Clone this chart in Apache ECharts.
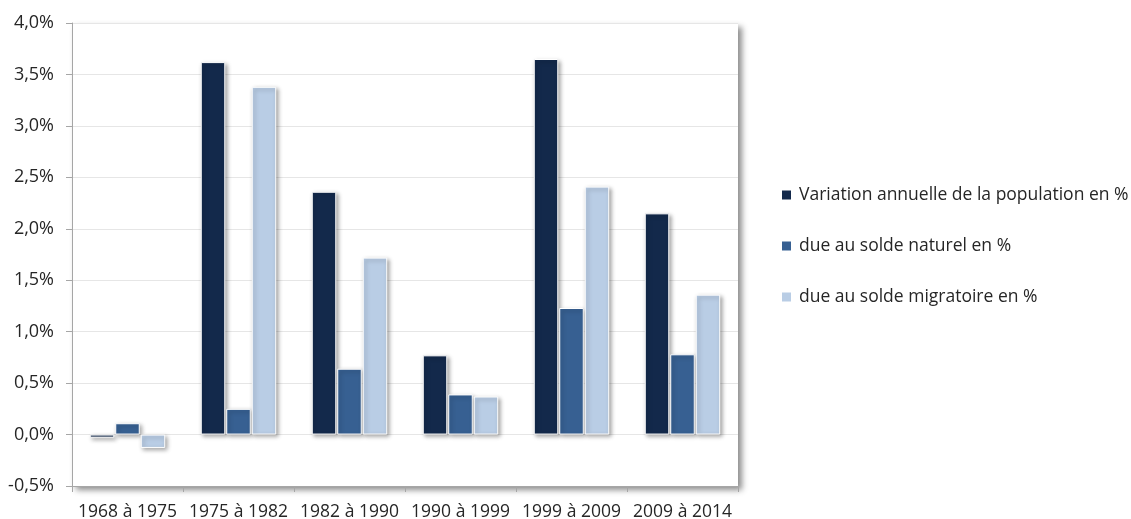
<!DOCTYPE html>
<html>
<head>
<meta charset="utf-8">
<script src="https://cdn.jsdelivr.net/npm/echarts@6/dist/echarts.min.js"></script>
<style>
  html, body { margin: 0; padding: 0; background: #ffffff; }
  #chart { width: 1131px; height: 519px; }
</style>
</head>
<body>
<div id="chart"></div>
<script>
// Periods on the category axis
const periods = ['1968 à 1975', '1975 à 1982', '1982 à 1990', '1990 à 1999', '1999 à 2009', '2009 à 2014'];
// Annual change of population, in %
const variationAnnuelle = [-0.03, 3.62, 2.36, 0.77, 3.65, 2.15];
// Part due to natural balance, in %
const soldeNaturel = [0.11, 0.25, 0.64, 0.39, 1.23, 0.78];
// Part due to migration balance, in %
const soldeMigratoire = [-0.13, 3.38, 1.72, 0.37, 2.41, 1.36];
// Series names shown in the legend
const seriesNames = ['Variation annuelle de la population en %', 'due au solde naturel en %', 'due au solde migratoire en %'];
const seriesColors = ['#13294b', '#376092', '#b9cde5'];

const FONT = '"Open Sans", "Noto Sans", sans-serif';

function barSeries(name, data, color) {
  return {
    name: name,
    type: 'bar',
    xAxisIndex: 0,
    data: data,
    barGap: '4%',
    barCategoryGap: '32%',
    itemStyle: {
      color: color,
      borderColor: '#ffffff',
      borderWidth: 1,
      shadowBlur: 4,
      shadowOffsetX: 2,
      shadowOffsetY: 2,
      shadowColor: 'rgba(0,0,0,0.35)'
    }
  };
}

const chart = echarts.init(document.getElementById('chart'), null, { renderer: 'canvas' });
chart.setOption({
  animation: false,
  textStyle: { fontFamily: FONT },
  grid: {
    left: 72, top: 23, right: 393, bottom: 33,
    outerBoundsMode: 'none',
    containLabel: false,
    show: true,
    backgroundColor: '#ffffff',
    borderWidth: 0,
    shadowBlur: 6,
    shadowOffsetX: 4,
    shadowOffsetY: 4,
    shadowColor: 'rgba(0,0,0,0.45)'
  },
  legend: {
    orient: 'vertical',
    left: 780,
    top: 186,
    padding: 0,
    itemWidth: 11,
    itemHeight: 11,
    itemGap: 33,
    icon: 'rect',
    textStyle: { fontFamily: FONT, fontSize: 17.5, color: '#262626', padding: [0, 0, 0, 2] },
    data: seriesNames
  },
  xAxis: [
    {
      type: 'category',
      data: periods,
      position: 'bottom',
      axisLine: { show: false },
      axisTick: { show: false },
      axisLabel: { fontFamily: FONT, fontSize: 17.5, color: '#262626', margin: 17, interval: 0 }
    },
    {
      type: 'category',
      data: periods,
      position: 'bottom',
      axisLine: { show: true, onZero: true, lineStyle: { color: '#a6a6a6', width: 1 } },
      axisTick: { show: true, length: 6, lineStyle: { color: '#a6a6a6' } },
      axisLabel: { show: false }
    }
  ],
  yAxis: {
    type: 'value',
    min: -0.5,
    max: 4,
    interval: 0.5,
    axisLine: { show: true, lineStyle: { color: '#a6a6a6' } },
    axisTick: { show: true, length: 6, lineStyle: { color: '#a6a6a6' } },
    splitLine: { show: true, lineStyle: { color: '#e6e6e6', width: 1 } },
    axisLabel: {
      fontFamily: FONT,
      fontSize: 18,
      color: '#262626',
      margin: 18,
      formatter: function (v) { return v.toFixed(1).replace('.', ',') + '%'; }
    }
  },
  series: [
    barSeries(seriesNames[0], variationAnnuelle, seriesColors[0]),
    barSeries(seriesNames[1], soldeNaturel, seriesColors[1]),
    barSeries(seriesNames[2], soldeMigratoire, seriesColors[2])
  ]
});
</script>
</body>
</html>
